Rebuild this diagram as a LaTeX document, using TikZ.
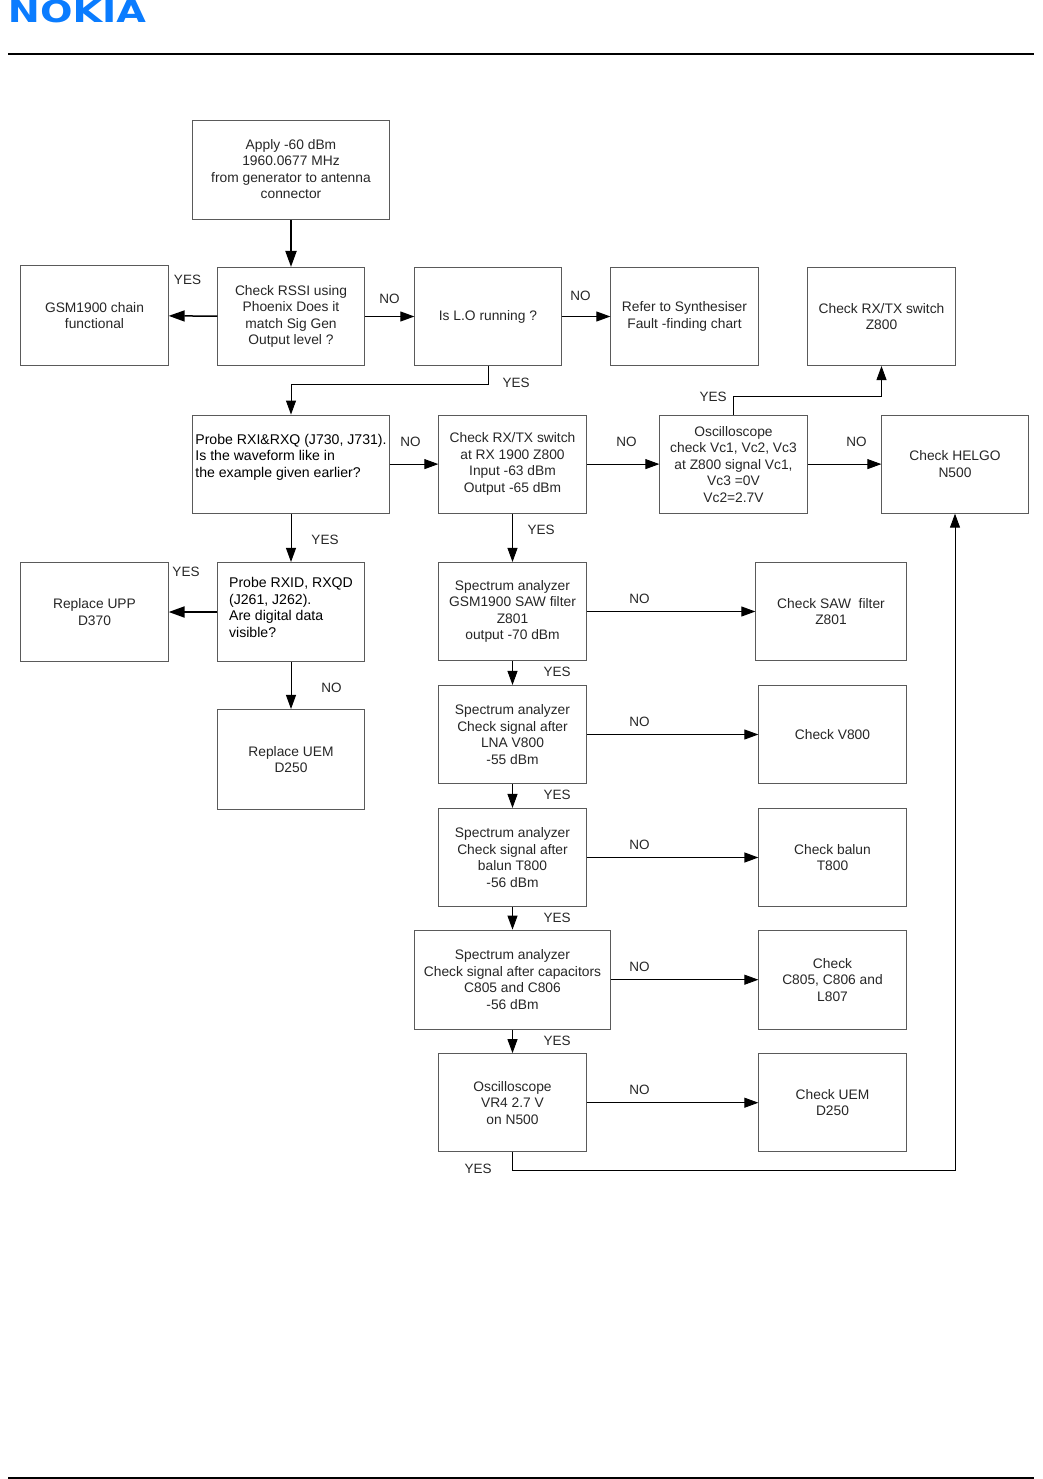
\documentclass[tikz,border=0pt]{standalone}
\usepackage{fontspec}
\setmainfont{Liberation Sans}
\newfontfamily\logofont{DejaVu Sans}
\usepackage{xcolor}
\usetikzlibrary{arrows.meta}
\definecolor{nokiablue}{HTML}{0A7CFF}
\definecolor{boxline}{HTML}{5A5A5A}
\tikzset{
    chartbox/.style={draw=boxline, line width=0.9pt, inner sep=0pt, align=center, font=\fontsize{13.8}{16.5}\selectfont, text=black!85},
    leftbox/.style={chartbox, align=left, font=\fontsize{14.1}{16.5}\selectfont, text=black},
    answer/.style={inner sep=0pt, font=\fontsize{13.5}{16}\selectfont, text=black!85},
    flow/.style={line width=0.9pt, -{Triangle[length=14pt,width=10pt]}},
    heavyflow/.style={line width=2pt, -{Triangle[length=16pt,width=11pt]}},
    sz/.style 2 args={minimum width=#1pt-0.6pt, minimum height=#2pt-0.8pt}
}
\begin{document}
\begin{tikzpicture}[x=1pt, y=-1pt]
    \useasboundingbox (0,0) rectangle (1043,1479);

    % page head and foot
    \node[inner sep=0pt, text=nokiablue] (logo) at (77,11.6) {\resizebox{138pt}{22.6pt}{\logofont\bfseries NOKIA}};
    \coordinate (headl) at (8,54);
    \coordinate (headr) at (1034,54);
    \coordinate (footl) at (8,1478);
    \coordinate (footr) at (1034,1478);
    \draw[line width=2pt] (headl) -- (headr);
    \draw[line width=2pt] (footl) -- (footr);

    % left and middle boxes
    \node[chartbox, sz={197}{100}] (start) at (291,170) {Apply -60 dBm\\1960.0677 MHz\\from generator to antenna\\connector\\[-15pt]\mbox{}};
    \node[chartbox, sz={148}{100}] (gsm) at (94.5,315.5) {GSM1900 chain\\functional};
    \node[chartbox, sz={147}{99}] (rssi) at (291,316.5) {Check RSSI using\\Phoenix Does it\\match Sig Gen\\Output level ?};
    \node[chartbox, sz={147}{99}] (lo) at (488,316.5) {\raisebox{-2.5pt}{Is L.O running ?}};
    \node[chartbox, sz={148}{99}] (synth) at (684.5,316.5) {Refer to Synthesiser\\Fault -finding chart};
    \node[chartbox, sz={148}{99}] (rxtx) at (881.5,316.5) {Check RX/TX switch\\Z800};
    \node[leftbox, sz={197}{99}] (probe) at (291,464.1) {Probe RXI\&RXQ (J730, J731).\\Is the waveform like in\\the example given earlier?\\\mbox{}};
    \node[chartbox, sz={148}{99}] (check) at (512.5,464.1) {Check RX/TX switch\\at RX 1900 Z800\\Input -63 dBm\\Output -65 dBm};
    \node[chartbox, sz={148}{99}] (osc) at (733.5,464.1) {Oscilloscope\\check Vc1, Vc2, Vc3\\at Z800 signal Vc1,\\Vc3 =0V\\Vc2=2.7V};
    \node[chartbox, sz={147}{99}] (helgo) at (955,464.1) {Check HELGO\\N500};
    \node[chartbox, sz={148}{100}] (upp) at (94.5,612) {Replace UPP\\D370};
    \node[leftbox, sz={147}{100}] (rxid) at (291,612) {Probe RXID, RXQD\\(J261, J262).\\Are digital data\\visible?\\[-7.5pt]\mbox{}};
    \node[chartbox, sz={147}{101}] (uem) at (291,759.5) {Replace UEM\\D250};

    % measurement column
    \node[chartbox, sz={148}{99}] (saw) at (512.5,611.5) {Spectrum analyzer\\GSM1900 SAW filter\\Z801\\output -70 dBm};
    \node[chartbox, sz={151}{99}] (sawc) at (831,611.5) {Check SAW\ \ filter\\Z801};
    \node[chartbox, sz={148}{99}] (lna) at (512.5,734.5) {Spectrum analyzer\\Check signal after\\LNA V800\\-55 dBm};
    \node[chartbox, sz={148}{99}] (v800) at (832.5,734.5) {Check V800};
    \node[chartbox, sz={148}{99}] (balun) at (512.5,857.5) {Spectrum analyzer\\Check signal after\\balun T800\\-56 dBm};
    \node[chartbox, sz={148}{99}] (t800) at (832.5,857.5) {Check balun\\T800};
    \node[chartbox, sz={196}{100}] (caps) at (512.5,979.7) {Spectrum analyzer\\Check signal after capacitors\\C805 and C806\\-56 dBm};
    \node[chartbox, sz={148}{100}] (c805) at (832.5,979.7) {Check\\C805, C806 and\\L807};
    \node[chartbox, sz={148}{99}] (vr4) at (512.5,1102.7) {Oscilloscope\\VR4 2.7 V\\on N500};
    \node[chartbox, sz={148}{99}] (uemb) at (832.5,1102.7) {Check UEM\\D250};

    % connectors
    \draw[heavyflow] (start) -- (rssi);
    \draw[heavyflow, line width=1.5pt] (rssi) -- (gsm);
    \draw[flow] (rssi) -- (lo);
    \draw[flow] (lo) -- (synth);
    \draw[flow] (lo.south) -- ++(0,18) -| (probe.north);
    \draw[flow] (osc.north) -- ++(0,-18) -| (rxtx.south);
    \draw[flow] (probe) -- (check);
    \draw[flow] (check) -- (osc);
    \draw[flow] (osc) -- (helgo);
    \draw[flow] (probe) -- (rxid);
    \draw[flow] (check) -- (saw);
    \draw[heavyflow] (rxid) -- (upp);
    \draw[flow] (rxid) -- (uem);
    \draw[flow] (saw) -- (sawc);
    \draw[flow] (saw) -- (lna);
    \draw[flow] (lna) -- (v800);
    \draw[flow] (lna) -- (balun);
    \draw[flow, line width=1.3pt] (balun) -- (t800);
    \draw[flow] (balun) -- (caps);
    \draw[flow] (caps) -- (c805);
    \draw[flow] (caps) -- (vr4);
    \draw[flow] (vr4) -- (uemb);
    \draw[flow] (vr4.south) -- ++(0,18) -| (helgo.south);

    % answers
    \node[answer] (a1) at (187.5,280) {YES};
    \node[answer] (a2) at (389.5,299) {NO};
    \node[answer] (a3) at (580.5,296) {NO};
    \node[answer] (a4) at (516,383) {YES};
    \node[answer] (a5) at (713,397) {YES};
    \node[answer] (a6) at (410.5,442) {NO};
    \node[answer] (a7) at (626.5,442) {NO};
    \node[answer] (a8) at (856.5,442) {NO};
    \node[answer] (a9) at (325,540) {YES};
    \node[answer] (a10) at (541,530) {YES};
    \node[answer] (a11) at (186,572) {YES};
    \node[answer] (a12) at (639.5,599) {NO};
    \node[answer] (a13) at (557,672) {YES};
    \node[answer] (a14) at (331.5,688) {NO};
    \node[answer] (a15) at (639.5,722) {NO};
    \node[answer] (a16) at (557,795) {YES};
    \node[answer] (a17) at (639.5,845) {NO};
    \node[answer] (a18) at (557,918) {YES};
    \node[answer] (a19) at (639.5,967) {NO};
    \node[answer] (a20) at (557,1041) {YES};
    \node[answer] (a21) at (639.5,1090) {NO};
    \node[answer] (a22) at (478,1169) {YES};
\end{tikzpicture}
\end{document}
